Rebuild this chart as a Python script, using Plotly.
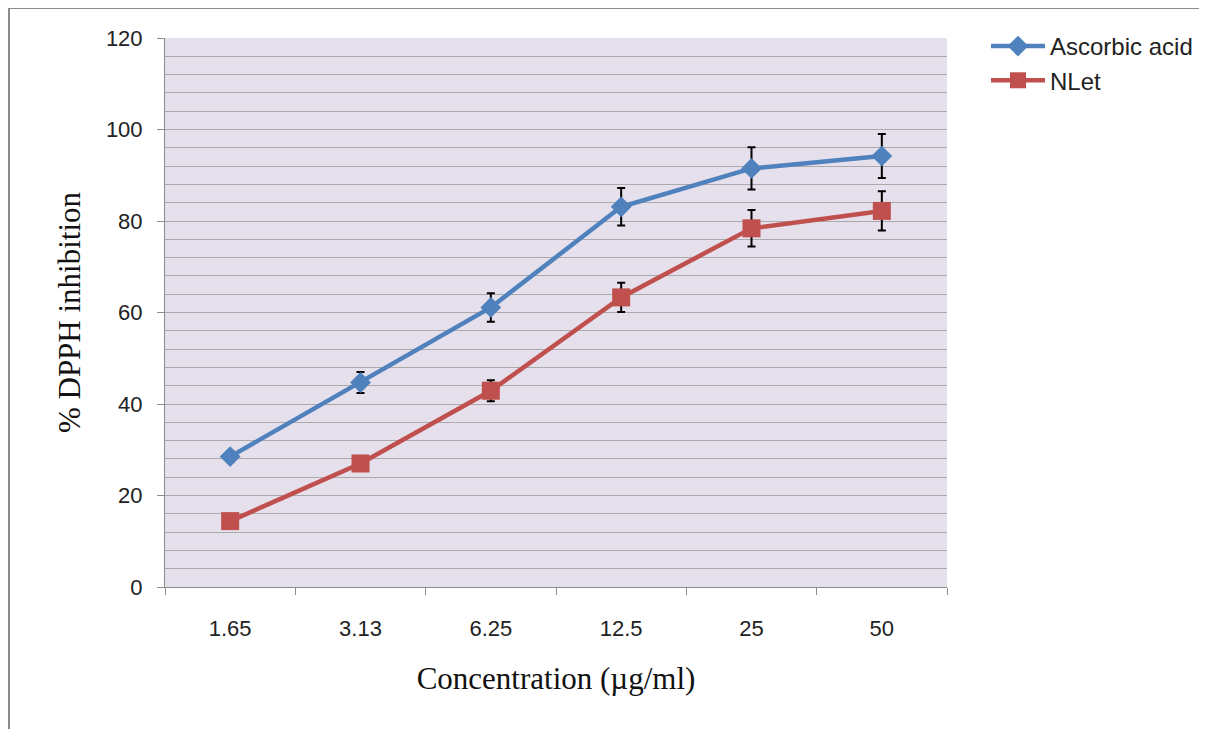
import plotly.graph_objects as go

categories = ["1.65", "3.13", "6.25", "12.5", "25", "50"]
ascorbic = [28.5, 44.7, 61.1, 83.1, 91.5, 94.2]
ascorbic_err = [1.2, 2.3, 3.1, 4.1, 4.6, 4.8]
nlet = [14.4, 27.0, 42.9, 63.3, 78.4, 82.2]
nlet_err = [0.5, 0.5, 2.3, 3.2, 4.0, 4.3]

OFF = 8  # page body margin
W, H = 1207 - OFF, 729 - OFF
L, R, T, B = 165 - OFF, 947 - OFF, 38 - OFF, 587 - OFF

fig = go.Figure()
fig.add_trace(go.Scatter(
    x=categories, y=ascorbic, name="Ascorbic acid", mode="lines+markers",
    line=dict(color="#4F81BD", width=4.5),
    marker=dict(symbol="diamond", size=16, color="#4F81BD"),
    error_y=dict(type="data", array=ascorbic_err, color="black", thickness=2, width=4),
))
fig.add_trace(go.Scatter(
    x=categories, y=nlet, name="NLet", mode="lines+markers",
    line=dict(color="#C0504D", width=4.5),
    marker=dict(symbol="square", size=18, color="#C0504D"),
    error_y=dict(type="data", array=nlet_err, color="black", thickness=2, width=4),
))

def px_x(p):
    return (p - OFF - L) / (R - L)

def px_y(p):
    return (B - (p - OFF)) / (B - T)

fig.update_layout(
    width=W, height=H,
    margin=dict(l=L, r=W - R, t=T, b=H - B, autoexpand=False),
    paper_bgcolor="white",
    plot_bgcolor="#E5E0EC",
    showlegend=True,
    legend=dict(x=px_x(986), y=px_y(24), xanchor="left", yanchor="top",
                font=dict(family="Liberation Sans", size=24, color="#222"),
                bgcolor="rgba(0,0,0,0)", tracegroupgap=0, itemwidth=54),
    font=dict(family="Liberation Sans", size=23, color="#222"),
    shapes=[dict(type="rect", xref="paper", yref="paper",
                 x0=px_x(9), x1=px_x(1220), y0=px_y(8), y1=px_y(745),
                 line=dict(color="#8C8C8C", width=2), fillcolor="rgba(0,0,0,0)", layer="below")],
)
fig.update_xaxes(
    type="category", showgrid=False, showline=True, linecolor="#8C8C8C", linewidth=1,
    ticks="outside", tickson="boundaries", ticklen=7, tickcolor="#8C8C8C",
    ticklabelstandoff=22, tickfont=dict(family="Liberation Sans", size=22, color="#222"),
    title=dict(text="Concentration (µg/ml)", font=dict(family="Liberation Serif", size=31, color="#111"), standoff=26),
    range=[-0.5, 5.5],
)
fig.update_yaxes(
    range=[0, 120], dtick=20, showgrid=True, gridcolor="#AAAAAA", gridwidth=1,
    minor=dict(dtick=4, showgrid=True, gridcolor="#AAAAAA", gridwidth=1),
    showline=True, linecolor="#8C8C8C", linewidth=1,
    ticks="outside", ticklen=7, tickcolor="#8C8C8C", ticklabelstandoff=10,
    tickfont=dict(family="Liberation Sans", size=22, color="#222"),
    zeroline=False,
    title=dict(text="% DPPH inhibition", font=dict(family="Liberation Serif", size=31, color="#111"), standoff=16),
)
fig.write_html("out.html")
